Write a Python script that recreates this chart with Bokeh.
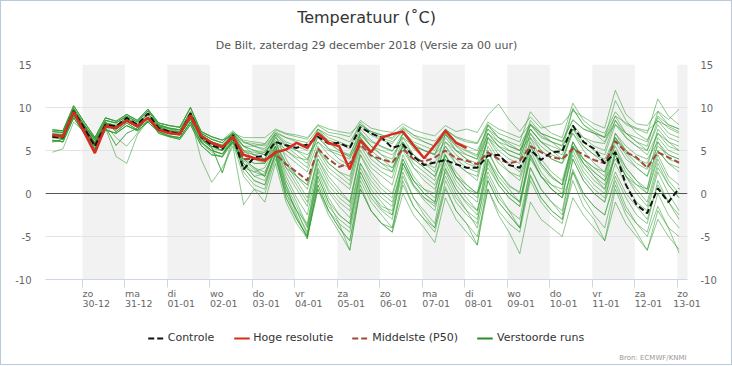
from bokeh.plotting import figure
from bokeh.layouts import column
from bokeh.models import Range1d, FixedTicker, LinearAxis, Span, Legend, LegendItem, Title, Label
from bokeh.embed import file_html
from bokeh.resources import INLINE

# ---------------- data ----------------
lead_hours = list(range(6, 361, 6))          # ensemble lead times (h after 29-12 00 UTC)
hres_hours = list(range(6, 241, 6))          # high-resolution lead times
utc_offset_h = 1                             # local time = UTC+1

weekdays = ["zo", "ma", "di", "wo", "do", "vr", "za", "zo", "ma", "di", "wo", "do", "vr", "za", "zo"]
dates = ["30-12", "31-12", "01-01", "02-01", "03-01", "04-01", "05-01", "06-01",
         "07-01", "08-01", "09-01", "10-01", "11-01", "12-01", "13-01"]
shaded_days = [0, 2, 4, 6, 8, 10, 12, 14]
y_ticks = [-10, -5, 0, 5, 10, 15]
y_tick_labels = ["-10", "-5", "0", "5", "10", "15"]

controle = [6.6, 6.5, 9.6, 7.6, 5.5, 8.0, 7.8, 8.8, 8.0, 9.3, 7.6, 7.2, 6.9, 9.3, 6.6, 5.6, 5.2,
            6.8, 2.8, 4.2, 4.4, 6.0, 5.6, 5.3, 5.7, 6.6, 5.8, 5.9, 5.3, 7.7, 7.0, 6.5, 5.3,
            5.7, 4.3, 3.3, 3.6, 3.9, 3.4, 3.0, 3.0, 4.4, 4.5, 3.3, 3.0, 5.1, 3.9, 4.8, 4.9,
            7.9, 6.0, 5.2, 3.5, 4.8, 1.0, -1.3, -2.3, 0.6, -1.0, 0.6]

hoge_resolutie = [6.8, 6.6, 9.5, 7.1, 4.7, 7.8, 7.6, 8.5, 7.8, 8.8, 7.4, 7.0, 6.9, 9.1, 6.7, 5.9, 5.4,
                  6.6, 4.5, 4.1, 3.8, 4.8, 5.1, 5.9, 5.3, 7.0, 5.9, 5.5, 2.8, 6.2, 4.8, 6.5, 6.9,
                  7.2, 5.6, 4.1, 5.6, 7.3, 5.9, 5.3]

middelste = [6.8, 6.7, 9.5, 7.6, 5.7, 8.0, 7.7, 8.5, 7.8, 8.8, 7.5, 7.2, 7.0, 8.8, 6.6, 5.8, 5.4,
             6.5, 4.0, 4.0, 3.9, 4.6, 3.4, 2.5, 1.5, 5.2, 4.0, 3.1, 3.5, 5.7, 4.4, 4.0, 3.6,
             5.2, 4.0, 3.7, 4.2, 5.0, 4.1, 3.8, 3.4, 4.8, 4.0, 3.5, 3.8, 5.5, 4.8, 4.2, 4.0,
             5.2, 4.5, 3.9, 3.5, 6.1, 4.8, 4.2, 3.0, 4.8, 4.2, 3.6]

m01 = [6.9, 6.8, 9.7, 7.8, 5.9, 8.2, 7.9, 8.8, 8.0, 9.3, 7.8, 7.3, 7.1, 9.2, 6.8, 6.0, 5.6,
       6.9, 5.9, 5.6, 5.7, 7.4, 6.9, 6.6, 6.3, 7.9, 7.1, 6.9, 6.6, 8.5, 7.6, 7.3, 7.1, 8.1, 7.4, 7.0, 6.7,
       7.9, 7.2, 7.5, 7.1, 9.1, 10.4, 8.6, 7.2, 8.9, 7.6, 7.9, 8.1, 9.6, 8.9, 8.1, 7.6, 12.0, 9.2, 8.1, 7.9, 9.6, 8.6, 9.8]
m02 = [7.2, 7.1, 9.9, 8.0, 6.2, 8.5, 8.2, 9.0, 8.3, 9.6, 8.0, 7.6, 7.4, 9.5, 7.0, 6.3, 5.9,
       7.2, 6.0, 5.8, 5.5, 7.0, 6.5, 6.2, 5.9, 7.5, 6.8, 6.5, 6.0, 8.0, 7.2, 6.8, 6.3, 7.6, 6.8, 6.4, 6.1,
       7.4, 6.6, 6.2, 5.9, 8.3, 7.5, 7.0, 6.5, 8.1, 7.0, 6.5, 6.1, 8.6, 7.5, 7.0, 6.6, 9.0, 8.2, 7.6, 7.3, 8.4, 7.8, 7.2]
m03 = [6.5, 6.4, 9.2, 7.3, 5.2, 7.8, 7.5, 8.4, 7.7, 8.8, 7.5, 7.0, 6.8, 8.7, 6.4, 5.5, 5.0,
       6.5, 4.8, 4.5, 4.8, 6.2, 5.0, 4.2, 3.9, 6.5, 5.2, 4.8, 4.4, 7.5, 6.2, 5.4, 4.9, 7.0, 5.8, 5.0, 4.6,
       6.8, 5.6, 4.9, 4.3, 7.9, 6.5, 5.8, 5.0, 8.0, 6.7, 6.0, 5.6, 9.9, 8.0, 7.2, 6.5, 10.8, 8.5, 7.0, 6.2, 8.8, 7.6, 7.0]
m04 = [6.2, 6.0, 8.8, 7.0, 5.0, 7.4, 7.0, 7.9, 7.3, 8.3, 7.2, 6.7, 6.5, 8.3, 6.0, 5.0, 4.6,
       6.2, 3.5, 2.0, 2.3, 5.5, 1.0, -2.5, -5.3, 1.5, -1.5, -3.0, -4.0, 2.5, 0.0, -1.8, -2.5, 3.5, 1.0, -0.5, -1.2,
       4.5, 2.0, 0.5, -0.5, 4.8, 2.5, 0.8, 0.2, 5.5, 3.2, 1.8, 1.0, 6.0, 4.0, 2.5, 1.5, 6.5, 4.8, 3.5, 2.8, 5.5, 4.5, 4.0]
m05 = [7.4, 7.3, 10.2, 8.3, 6.5, 8.8, 8.4, 9.2, 8.5, 9.8, 8.2, 7.9, 7.7, 10.0, 7.2, 6.6, 6.2,
       6.8, 4.0, 3.0, 2.5, 5.0, 0.5, -2.0, -4.8, 2.0, -1.0, -3.5, -6.6, 1.0, -2.0, -3.5, -4.5, 1.5, -1.5, -3.0, -4.0,
       0.8, -2.0, -3.5, -6.0, 1.5, -1.0, -2.5, -4.0, 2.2, -0.5, -2.0, -3.0, 2.8, 0.0, -1.5, -2.5, 1.5, -1.5, -3.5, -5.0, -1.5, -4.0, -6.9]
m06 = [6.0, 6.3, 9.1, 7.2, 5.5, 8.3, 7.2, 8.2, 7.4, 8.9, 7.0, 6.6, 6.3, 8.0, 5.6, 4.5, 4.3,
       6.4, 3.8, 2.8, 2.0, 5.2, 1.5, -1.0, -3.8, 2.8, 0.2, -1.5, -2.8, 3.5, 1.5, 0.0, -1.0, 3.0, 0.8, -0.8, -2.0,
       2.8, 0.5, -1.2, -2.5, 3.8, 1.5, 0.0, -1.0, 4.2, 2.0, 0.5, -0.5, 5.0, 2.5, 1.0, 0.0, 4.5, 2.0, 0.0, -1.5, 3.0, 1.0, -0.5]
m07 = [7.2, 7.1, 9.9, 8.0, 6.2, 8.5, 8.2, 9.0, 8.3, 9.6, 8.0, 7.6, 7.4, 9.5, 7.0, 6.3, 5.9,
       7.0, 5.0, 4.0, 3.5, 6.0, 3.0, 1.0, -1.0, 4.5, 2.5, 1.5, 0.5, 5.5, 3.5, 2.5, 1.8, 6.0, 4.0, 3.0, 2.0,
       5.5, 3.5, 2.5, 1.5, 6.5, 4.5, 3.5, 2.5, 7.0, 5.0, 4.0, 3.5, 7.5, 5.5, 4.5, 3.5, 6.5, 4.5, 3.0, 2.0, 5.0, 3.5, 2.5]
m08 = [6.2, 6.0, 8.8, 7.0, 5.0, 7.4, 7.0, 7.9, 7.3, 8.3, 7.2, 6.7, 6.5, 8.3, 6.0, 5.0, 4.6,
       6.0, 3.0, 1.5, 1.0, 4.8, 0.0, -2.8, -5.0, 0.5, -2.5, -4.5, -6.6, 0.5, -2.0, -3.5, -4.5, 0.0, -2.5, -4.0, -5.7,
       -0.5, -3.0, -4.5, -6.0, 0.5, -2.5, -4.5, -7.0, -1.0, -3.0, -4.0, -5.0, -0.5, -2.5, -4.0, -5.5, -1.0, -3.5, -5.0, -6.6, -3.0, -5.0, -6.5]
m09 = [6.9, 6.8, 9.7, 7.8, 5.9, 8.2, 7.9, 8.8, 8.0, 9.3, 7.8, 7.3, 7.1, 9.2, 6.8, 6.0, 5.6,
       6.6, 4.5, 4.2, 4.0, 6.5, 5.0, 4.0, 3.0, 6.8, 5.2, 4.0, 3.2, 7.2, 5.5, 4.5, 3.5, 7.0, 5.2, 4.2, 3.5,
       6.5, 5.0, 4.0, 3.5, 7.0, 5.5, 4.5, 4.0, 7.5, 6.0, 5.0, 4.5, 8.0, 6.5, 5.5, 5.0, 8.5, 6.5, 5.5, 4.5, 7.0, 6.0, 5.5]
m10 = [6.6, 6.9, 9.0, 7.9, 6.4, 7.7, 5.6, 7.0, 7.6, 8.4, 7.9, 7.5, 7.2, 9.2, 6.2, 5.4, 2.4,
       6.0, 3.0, 2.5, 3.0, 5.5, 2.0, -0.5, -2.5, 3.5, 1.0, -0.5, -1.5, 4.5, 2.0, 0.5, -0.5, 4.5, 2.0, 0.5, -0.5,
       3.5, 1.0, -0.5, -2.0, 2.5, 0.0, -2.0, -4.0, 3.0, 0.5, -1.0, -2.0, 4.0, 1.5, 0.0, -1.0, 5.0, 3.0, 1.5, 0.5, 6.0, 4.0, 3.5]
m11 = [7.4, 7.3, 10.2, 8.3, 6.5, 8.8, 8.4, 9.2, 8.5, 9.8, 8.2, 7.9, 7.7, 10.0, 7.2, 6.6, 6.2,
       7.3, 6.0, 5.5, 5.2, 7.0, 6.0, 5.5, 5.0, 7.5, 6.5, 6.0, 5.5, 8.3, 7.0, 6.5, 6.0, 7.2, 6.0, 5.5, 5.0,
       7.5, 6.5, 6.0, 5.8, 8.0, 7.0, 6.5, 6.0, 9.5, 8.0, 7.0, 6.5, 10.5, 8.5, 7.5, 7.0, 9.5, 8.0, 7.5, 7.0, 11.0, 9.0, 8.0]
m12 = [6.5, 6.4, 9.2, 7.3, 5.2, 7.8, 7.5, 8.4, 7.7, 8.8, 7.5, 7.0, 6.8, 8.7, 6.4, 5.5, 5.0,
       6.5, 4.5, 3.5, 3.5, 5.8, 3.5, 1.5, -0.5, 4.0, 2.0, 0.5, -1.0, 4.5, 2.5, 1.0, 0.0, 4.0, 1.5, 0.0, -1.0,
       2.5, 0.0, -2.0, -4.0, 1.5, -1.0, -2.5, -4.0, 2.0, -0.5, -2.0, -3.0, 1.5, -1.5, -3.0, -5.5, 0.5, -2.5, -4.5, -6.6, -2.0, -4.0, -5.0]
m13 = [6.9, 6.8, 9.7, 7.8, 5.9, 8.2, 7.9, 8.8, 8.0, 9.3, 7.8, 7.3, 7.1, 9.2, 6.8, 6.0, 5.6,
       6.7, 5.5, 5.0, 4.5, 6.8, 4.0, 2.0, 0.5, 5.0, 3.0, 2.0, 1.0, 6.0, 4.0, 3.0, 2.5, 6.5, 4.5, 3.5, 2.5,
       7.0, 5.0, 4.0, 3.0, 6.0, 4.0, 2.5, 1.5, 5.5, 3.5, 2.0, 1.0, 6.0, 4.0, 3.0, 2.0, 7.0, 5.0, 4.0, 3.0, 7.5, 6.0, 5.0]
m14 = [6.0, 6.3, 9.1, 7.2, 5.5, 8.3, 7.2, 8.2, 7.4, 8.9, 7.0, 6.6, 6.3, 8.0, 5.6, 4.5, 4.3,
       6.3, 2.5, 1.0, 0.5, 4.5, -0.5, -3.0, -5.0, 1.0, -2.0, -3.5, -4.5, 2.0, -0.5, -2.0, -3.0, 3.5, 1.5, 0.5, 0.0,
       5.0, 3.5, 2.5, 2.0, 6.5, 5.5, 5.0, 4.5, 8.0, 7.0, 6.5, 6.0, 8.5, 7.5, 7.0, 6.5, 8.0, 7.0, 6.5, 6.0, 9.0, 8.0, 7.5]
m15 = [7.2, 7.1, 9.9, 8.0, 6.2, 8.5, 8.2, 9.0, 8.3, 9.6, 8.0, 7.6, 7.4, 9.5, 7.0, 6.3, 5.9,
       7.0, 6.2, 6.0, 5.8, 7.2, 6.5, 6.0, 5.5, 7.2, 6.2, 5.8, 5.2, 7.8, 6.8, 6.2, 5.8, 7.5, 6.5, 6.0, 5.5,
       6.8, 6.0, 5.5, 5.0, 7.5, 6.5, 6.0, 5.5, 8.0, 6.5, 6.0, 5.5, 7.5, 6.5, 6.0, 5.8, 8.5, 7.0, 6.0, 5.5, 9.5, 8.0, 7.5]
m16 = [6.7, 6.5, 9.4, 7.4, 5.6, 8.1, 7.8, 8.7, 7.9, 9.1, 7.6, 7.2, 7.0, 8.9, 4.0, 1.3, 3.0,
       5.5, -1.3, 0.5, -1.0, 3.5, -1.0, -3.5, -5.2, 0.5, -2.0, -4.0, -5.5, 1.5, -1.0, -2.5, -4.0, 2.0, -0.5, -2.0, -3.5,
       3.0, 0.5, -1.0, -2.0, 4.0, 1.5, 0.0, -1.0, 5.0, 2.5, 1.0, 0.0, 4.5, 2.0, 0.5, -0.5, 3.5, 1.0, -1.0, -2.0, 2.5, 0.0, -2.0]
m17 = [4.8, 5.2, 8.3, 7.2, 6.0, 7.9, 6.5, 5.5, 7.0, 8.6, 7.4, 7.0, 6.9, 8.5, 5.9, 4.8, 4.2,
       6.0, 4.0, 3.5, 3.5, 5.5, 3.0, 2.0, 1.0, 5.0, 3.5, 2.5, 2.0, 6.0, 4.5, 3.5, 3.0, 5.5, 4.0, 3.0, 2.0,
       4.5, 2.5, 1.0, 0.0, 4.0, 2.0, 0.5, -1.0, 4.5, 2.0, 0.5, -0.5, 5.5, 3.5, 2.0, 1.0, 6.0, 4.0, 3.0, 2.0, 6.5, 5.0, 4.5]
m18 = [7.0, 6.9, 9.6, 7.6, 5.8, 7.6, 4.3, 3.5, 6.8, 8.5, 7.7, 7.2, 6.9, 8.8, 6.5, 5.2, 5.0,
       7.0, 6.5, 6.5, 6.5, 7.5, 7.0, 6.8, 6.5, 8.0, 7.5, 7.2, 7.0, 8.0, 7.2, 6.8, 6.5, 7.8, 6.8, 6.0, 5.5,
       7.0, 5.5, 4.5, 4.0, 7.5, 6.0, 5.0, 4.5, 8.5, 7.0, 6.0, 5.0, 9.8, 8.0, 7.0, 6.0, 9.0, 7.0, 6.0, 5.0, 8.0, 6.5, 6.0]
m19 = [6.2, 6.0, 8.8, 7.0, 5.0, 7.4, 7.0, 7.9, 7.3, 8.3, 7.2, 6.7, 6.5, 8.3, 6.0, 5.0, 4.6,
       6.5, 3.5, 2.0, 1.5, 4.5, 0.5, -2.0, -4.5, 2.5, -0.5, -2.5, -3.5, 3.0, 0.5, -1.0, -2.5, 2.5, -0.5, -2.5, -4.0,
       1.5, -1.0, -2.5, -3.5, 3.5, 1.0, -0.5, -1.5, 4.5, 2.0, 0.5, -0.5, 2.5, -0.5, -2.5, -4.0, 1.0, -2.0, -3.5, -4.5, 0.0, -2.5, -4.0]
m20 = [7.4, 7.3, 10.2, 8.3, 6.5, 8.8, 8.4, 9.2, 8.5, 9.8, 8.2, 7.9, 7.7, 10.0, 7.2, 6.6, 6.2,
       6.8, 5.0, 4.5, 4.0, 6.0, 4.5, 3.5, 2.5, 6.0, 4.5, 3.5, 3.0, 7.0, 5.5, 4.5, 4.0, 7.0, 5.5, 5.0, 4.5,
       7.5, 6.0, 5.0, 4.5, 8.0, 6.5, 5.5, 5.0, 7.5, 6.0, 5.5, 5.0, 7.0, 5.5, 4.5, 4.0, 6.5, 5.0, 4.0, 3.5, 7.0, 5.5, 5.0]
m21 = [6.5, 6.4, 9.2, 7.3, 5.2, 7.8, 7.5, 8.4, 7.7, 8.8, 7.5, 7.0, 6.8, 8.7, 6.4, 5.5, 5.0,
       5.8, 2.0, 0.5, 0.0, 4.0, 0.0, -2.0, -3.5, 3.0, 0.5, -1.0, -2.0, 3.5, 1.0, -0.5, -1.5, 4.0, 1.5, 0.0, -1.0,
       4.5, 2.0, 0.5, 0.0, 5.5, 3.5, 2.5, 2.0, 6.0, 3.5, 2.0, 1.0, 5.5, 3.0, 1.5, 0.5, 5.0, 2.5, 1.0, 0.0, 4.5, 2.0, 1.0]
m22 = [6.0, 6.3, 9.1, 7.2, 5.5, 8.3, 7.2, 8.2, 7.4, 8.9, 7.0, 6.6, 6.3, 8.0, 5.6, 4.5, 4.3,
       6.2, 3.0, 1.5, 1.0, 4.5, -0.5, -3.0, -5.0, 1.0, -2.0, -4.0, -5.5, 0.5, -2.0, -3.5, -4.0, 1.0, -1.5, -3.0, -4.5,
       0.5, -2.0, -3.5, -5.0, 0.5, -2.0, -3.5, -4.5, 1.5, -1.0, -2.5, -3.5, 2.5, 0.0, -1.5, -2.5, 2.0, -0.5, -2.5, -3.5, 1.5, -1.0, -2.5]
m23 = [6.9, 6.8, 9.7, 7.8, 5.9, 8.2, 7.9, 8.8, 8.0, 9.3, 7.8, 7.3, 7.1, 9.2, 6.8, 6.0, 5.6,
       6.9, 5.5, 5.0, 4.8, 6.5, 5.5, 5.0, 4.5, 6.0, 5.0, 4.5, 4.0, 6.8, 5.5, 5.0, 4.5, 6.0, 4.5, 3.5, 3.0,
       5.5, 4.0, 3.0, 2.5, 6.5, 5.0, 4.0, 3.5, 7.0, 5.5, 4.5, 4.0, 7.5, 6.0, 5.0, 4.5, 8.0, 6.5, 5.5, 5.0, 8.5, 7.0, 6.5]
m24 = [7.2, 7.1, 9.9, 8.0, 6.2, 8.5, 8.2, 9.0, 8.3, 9.6, 8.0, 7.6, 7.4, 9.5, 7.0, 6.3, 5.9,
       7.1, 5.5, 4.5, 4.0, 6.0, 3.5, 2.0, 1.0, 5.5, 3.5, 2.5, 1.5, 6.5, 4.5, 3.5, 2.5, 5.5, 3.0, 1.5, 0.5,
       4.0, 1.5, 0.0, -1.0, 5.0, 2.5, 1.0, 0.0, 6.5, 4.0, 2.5, 1.5, 6.0, 3.5, 2.0, 0.5, 4.5, 2.0, 0.5, -1.0, 3.5, 1.0, -0.5]
m25 = [6.6, 6.9, 9.0, 7.9, 6.4, 7.7, 5.6, 7.0, 7.6, 8.4, 7.9, 7.5, 7.2, 9.2, 6.2, 5.4, 2.4,
       6.6, 5.0, 4.8, 4.5, 6.8, 5.8, 5.0, 4.0, 7.0, 5.8, 5.0, 4.2, 6.5, 5.0, 4.0, 3.0, 5.0, 3.0, 2.0, 1.0,
       4.0, 2.0, 1.0, 0.0, 3.0, 1.0, -0.5, -1.5, 4.0, 2.0, 1.0, 0.5, 5.5, 4.0, 3.0, 2.5, 7.0, 5.5, 4.5, 4.0, 6.0, 4.5, 4.0]
m26 = [6.2, 6.0, 8.8, 7.0, 5.0, 7.4, 7.0, 7.9, 7.3, 8.3, 7.2, 6.7, 6.5, 8.3, 6.0, 5.0, 4.6,
       6.0, 4.0, 3.0, 2.0, 5.5, 2.5, 0.5, -1.5, 4.0, 1.5, 0.0, -1.0, 5.0, 3.0, 2.0, 1.0, 5.5, 3.5, 2.5, 1.5,
       6.0, 4.5, 3.5, 3.0, 7.0, 5.5, 4.5, 4.0, 7.5, 6.0, 5.0, 4.0, 7.0, 5.0, 3.5, 2.5, 5.5, 3.0, 1.5, 0.0, 4.0, 1.5, 0.0]
m27 = [7.4, 7.3, 10.2, 8.3, 6.5, 8.8, 8.4, 9.2, 8.5, 9.8, 8.2, 7.9, 7.7, 10.0, 7.2, 6.6, 6.2,
       7.0, 5.5, 5.5, 5.0, 7.0, 5.5, 4.5, 3.5, 7.5, 6.0, 5.0, 4.5, 7.0, 6.0, 5.5, 5.0, 6.5, 5.5, 5.0, 4.5,
       6.0, 5.0, 4.5, 4.0, 7.0, 6.0, 5.5, 5.0, 6.5, 5.0, 4.0, 3.5, 5.5, 3.5, 2.5, 1.5, 4.0, 2.0, 1.0, 0.5, 5.0, 3.5, 3.0]
m28 = [6.5, 6.4, 9.2, 7.3, 5.2, 7.8, 7.5, 8.4, 7.7, 8.8, 7.5, 7.0, 6.8, 8.7, 6.4, 5.5, 5.0,
       6.4, 3.5, 2.5, 2.0, 5.0, 1.0, -1.5, -4.0, 2.0, -1.0, -2.5, -3.5, 2.5, 0.0, -1.5, -2.0, 3.5, 1.0, -0.5, -1.5,
       2.0, -0.5, -2.0, -3.0, 2.0, -0.5, -2.0, -3.0, 3.0, 0.5, -1.0, -2.5, 4.0, 1.5, 0.0, -1.0, 2.5, 0.0, -1.5, -3.0, 1.0, -1.0, -3.0]

verstoorde_runs = [m01, m02, m03, m04, m05, m06, m07, m08, m09, m10, m11, m12, m13, m14,
                   m15, m16, m17, m18, m19, m20, m21, m22, m23, m24, m25, m26, m27, m28]

bad = [i + 1 for i, m in enumerate(verstoorde_runs) if len(m) != len(lead_hours)]
if bad or len(controle) != 60 or len(middelste) != 60 or len(hoge_resolutie) != len(hres_hours):
    raise SystemExit("length mismatch: members %s ctrl %d med %d hres %d" % (bad, len(controle), len(middelste), len(hoge_resolutie)))

# x in days since 30-12 00:00 local time
x_ens = [(h + utc_offset_h) / 24.0 - 1.0 for h in lead_hours]
x_hres = [(h + utc_offset_h) / 24.0 - 1.0 for h in hres_hours]
day_pos = list(range(len(dates)))

# ---------------- main figure ----------------
FONT = "DejaVu Sans"
X0, X1 = -0.87, 14.24
FRAME_W = 642
W = 730
px_per_day = FRAME_W / (X1 - X0)

p = figure(title=None, frame_width=FRAME_W, frame_height=215,
           x_range=Range1d(X0, X1), y_range=Range1d(-10, 15),
           output_backend="svg", toolbar_location=None,
           min_border_left=44, min_border_right=W - 44 - FRAME_W, min_border_top=63, min_border_bottom=32,
           background_fill_color="white", border_fill_color="white")
p.outline_line_color = None

# alternating day bands
p.quad(left=shaded_days, right=[d + 1 for d in shaded_days], bottom=y_ticks[0], top=y_ticks[-1],
       fill_color="#f2f2f2", line_color=None, level="image")

# grid
p.xgrid.grid_line_color = None
p.ygrid.ticker = FixedTicker(ticks=y_ticks)
p.ygrid.grid_line_color = "#e3e3e3"

# zero line
p.add_layout(Span(location=0, dimension="width", line_color="#555555", line_width=1, level="underlay"))

# x axis: tick marks at the day boundaries
xa = p.xaxis[0]
xa.ticker = FixedTicker(ticks=day_pos, minor_ticks=[])
xa.major_label_overrides = {d: "" for d in day_pos}
xa.major_label_text_font_size = "0px"
xa.major_label_standoff = 0
xa.axis_line_color = "#ccd6eb"
xa.major_tick_line_color = "#ccd6eb"
xa.major_tick_out = 8
xa.major_tick_in = 0
xa.minor_tick_line_color = None

# two label rows (weekday / date), left-aligned at each day boundary
weekday_half_px = {"zo": 5.4, "ma": 7.5, "di": 4.4, "wo": 6.8, "do": 5.9, "vr": 4.8, "za": 5.4}
date_half_px = 13.8

def label_axis(labels, shifts_px, standoff):
    ticks = [d + s / px_per_day for d, s in zip(day_pos, shifts_px)]
    ax = LinearAxis(ticker=FixedTicker(ticks=ticks, minor_ticks=[]),
                    major_label_overrides=dict(zip(ticks, labels)))
    ax.axis_line_color = None
    ax.major_tick_line_color = None
    ax.minor_tick_line_color = None
    ax.major_tick_out = 0
    ax.major_tick_in = 0
    ax.major_label_standoff = standoff
    ax.major_label_text_font = FONT
    ax.major_label_text_font_size = "9.5px"
    ax.major_label_text_color = "#666666"
    p.add_layout(ax, "below")

label_axis(weekdays, [weekday_half_px[w] for w in weekdays], 0)
# last date label must stay inside the plotting range
label_axis(dates, [min(date_half_px, (X1 - d) * px_per_day - 0.5) for d in day_pos], -2)

# y axes
def style_y(ax, standoff):
    ax.ticker = FixedTicker(ticks=y_ticks, minor_ticks=[])
    ax.major_label_overrides = dict(zip(y_ticks, y_tick_labels))
    ax.axis_line_color = None
    ax.major_tick_line_color = None
    ax.minor_tick_line_color = None
    ax.major_tick_out = 0
    ax.major_label_standoff = standoff
    ax.major_label_text_font = FONT
    ax.major_label_text_font_size = "10px"
    ax.major_label_text_color = "#666666"

style_y(p.yaxis[0], 14)
ra = LinearAxis()
style_y(ra, 13)
p.add_layout(ra, "right")

# ensemble members
for m in verstoorde_runs:
    p.line(x_ens, m, line_color="#2f9a2f", line_alpha=0.55, line_width=1)

p.line(x_ens, middelste, line_color="#a3483a", line_width=2, line_dash="6 3")
p.line(x_ens, controle, line_color="#111111", line_width=2, line_dash="6 3")
p.line(x_hres, hoge_resolutie, line_color="#d62d20", line_width=2.5)

# titles (first added sits closest to the frame)
p.add_layout(Title(text="De Bilt, zaterdag 29 december 2018 (Versie za 00 uur)", align="center",
                   standoff=26, text_font=FONT, text_font_size="11px", text_color="#555555",
                   text_font_style="normal"), "above")
p.add_layout(Title(text="Temperatuur (˚C)", align="center", standoff=-7,
                   text_font=FONT, text_font_size="16px", text_color="#333333",
                   text_font_style="normal"), "above")

# ---------------- legend / credits strip ----------------
LH = 53
q = figure(title=None, width=W, height=LH, x_range=Range1d(0, W), y_range=Range1d(0, LH),
           output_backend="svg", toolbar_location=None, min_border=0,
           x_axis_location=None, y_axis_location=None,
           background_fill_color="white", border_fill_color="white")
q.outline_line_color = None
q.xgrid.visible = False
q.ygrid.visible = False

nan = float("nan")
proxy = [nan, nan]   # legend-only renderers: nothing drawn in the strip
lg_c = q.line(proxy, proxy, line_color="#111111", line_width=2, line_dash="6 3")
lg_h = q.line(proxy, proxy, line_color="#d62d20", line_width=2)
lg_m = q.line(proxy, proxy, line_color="#a3483a", line_width=2, line_dash="6 3")
lg_v = q.line(proxy, proxy, line_color="#2b8c2b", line_width=2)
legend = Legend(items=[LegendItem(label="Controle", renderers=[lg_c]),
                       LegendItem(label="Hoge resolutie", renderers=[lg_h]),
                       LegendItem(label="Middelste (P50)", renderers=[lg_m]),
                       LegendItem(label="Verstoorde runs", renderers=[lg_v])],
                location="center", orientation="horizontal",
                background_fill_alpha=0, border_line_color=None,
                label_text_font=FONT, label_text_font_size="11px", label_text_color="#333333",
                glyph_width=16, glyph_height=14, label_height=14,
                label_standoff=4, spacing=19, padding=0, margin=0)
q.add_layout(legend)
q.add_layout(Label(x=W - 1, y=7, text="Bron: ECMWF/KNMI", text_align="right", text_baseline="middle",
                   text_font=FONT, text_font_size="7px", text_color="#999999"))

page = column(p, q, spacing=0)
page.styles = {"border": "1px solid #b9cadb"}

open("out.html", "w").write(file_html(page, INLINE))
